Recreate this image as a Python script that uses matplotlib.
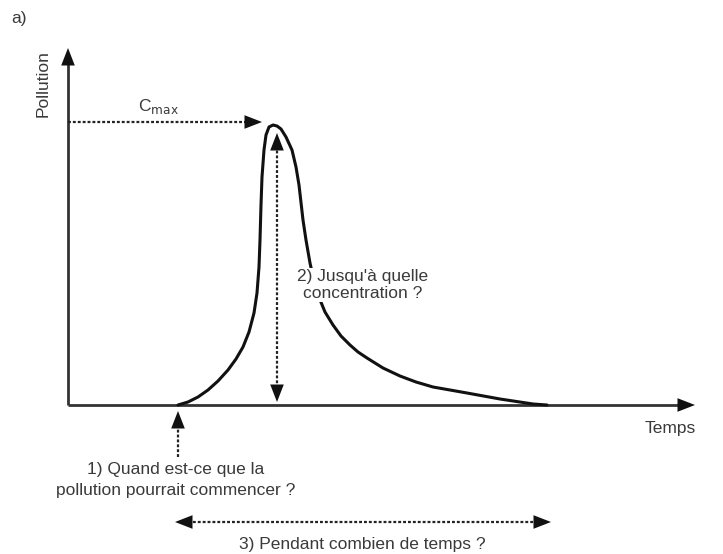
import numpy as np
import matplotlib
matplotlib.use("Agg")
import matplotlib.pyplot as plt

plt.rcParams['font.family'] = ['Liberation Sans', 'DejaVu Sans']

# pollution curve (time, concentration), origin at the axes corner
curve_t = [110, 120, 130, 140, 150, 160, 168, 175, 181, 186, 189, 191, 192, 193, 194,
           196, 198, 201, 205, 209, 213, 218, 224, 228, 231, 235, 238, 242, 248, 257,
           265, 273, 282, 290, 299, 315, 332, 348, 365, 382, 399, 432, 465, 479]
curve_c = [0, 3, 8, 15, 24, 35, 46, 58, 73, 92, 112, 138, 165, 200, 228,
           255, 270, 278, 280, 279, 276, 268, 255, 238, 220, 185, 165, 142, 115, 93,
           80, 69, 60, 53, 47, 37, 29, 23, 18, 15, 12, 6, 1, 0]

t_max = 655      # end of time axis
c_top = 357      # end of pollution axis
c_max = 283      # level of the C_max arrow
t_start = 110    # where pollution starts
t_peak = 209     # position of the vertical arrow
t_end = 482      # end of the duration arrow

labels = {
    'a': 'a)',
    'y': 'Pollution',
    'x': 'Temps',
    'cmax': r'C$_{\mathrm{max}}$',
    'q1': '1) Quand est-ce que la\npollution pourrait commencer ?',
    'q2': "2) Jusqu'à quelle\nconcentration ?",
    'q3': '3) Pendant combien de temps ?',
}

fig = plt.figure(figsize=(7.23, 5.54), dpi=100)
ax = fig.add_axes([0, 0, 1, 1])
ax.set_xlim(-68, 655)
ax.set_ylim(-149, 405)
ax.axis('off')

axis_col = '#333333'
text_col = '#3a3a3a'
head = dict(arrowstyle='-|>,head_length=0.9,head_width=0.35', color='#111111',
            lw=0, shrinkA=0, shrinkB=0, mutation_scale=14)


def head_at(x0, y0, x1, y1):
    ax.annotate('', xy=(x1, y1), xytext=(x0, y0), arrowprops=head)


# axes with arrows
ax.plot([0, 0], [0, c_top - 8], color=axis_col, lw=2, solid_capstyle='butt')
head_at(0, c_top - 14, 0, c_top)
ax.plot([0, t_max - 35], [0, 0], color=axis_col, lw=2, solid_capstyle='butt')
head_at(t_max - 45, 0, t_max - 28, 0)

# curve
ax.plot(curve_t, curve_c, color='#111111', lw=2.2, solid_joinstyle='round',
        solid_capstyle='round')

dots = (0, (1.3, 0.9))
# C_max arrow
ax.plot([0, 180], [c_max, c_max], color='#222222', lw=1.6, linestyle=dots)
head_at(170, c_max, 194, c_max)

# vertical double arrow
ax.plot([t_peak, t_peak], [12, 255], color='#222222', lw=1.6, linestyle=dots)
head_at(t_peak, 255, t_peak, 272)
head_at(t_peak, 15, t_peak, 3)

# start arrow
ax.plot([t_start, t_start], [-52, -18], color='#222222', lw=1.6, linestyle=dots)
head_at(t_start, -18, t_start, -6)

# duration double arrow
ax.plot([t_start + 10, t_end - 10], [-117, -117], color='#222222', lw=1.6, linestyle=dots)
head_at(t_start + 12, -117, t_start - 3, -117)
head_at(t_end - 12, -117, t_end + 1, -117)

# texts
fs = 12.5
ax.text(-49, 387, labels['a'], fontsize=fs, color=text_col, ha='center', va='center')
ax.text(-25, 321, labels['y'], fontsize=fs, color=text_col, rotation=90,
        ha='center', va='center')
ax.text(602, -23, labels['x'], fontsize=fs, color=text_col, ha='center', va='center')
ax.text(90, 298, labels['cmax'], fontsize=fs, color=text_col, ha='center', va='center')
ax.text(295, 120, labels['q2'], fontsize=fs, color=text_col, ha='center', va='center',
        linespacing=1.1, bbox=dict(facecolor='white', edgecolor='none', pad=1))
ax.text(108, -75, labels['q1'], fontsize=fs, color=text_col, ha='center', va='center',
        linespacing=1.55)
ax.text(294, -140, labels['q3'], fontsize=fs, color=text_col, ha='center', va='center')

fig.savefig('out.png', dpi=100)
